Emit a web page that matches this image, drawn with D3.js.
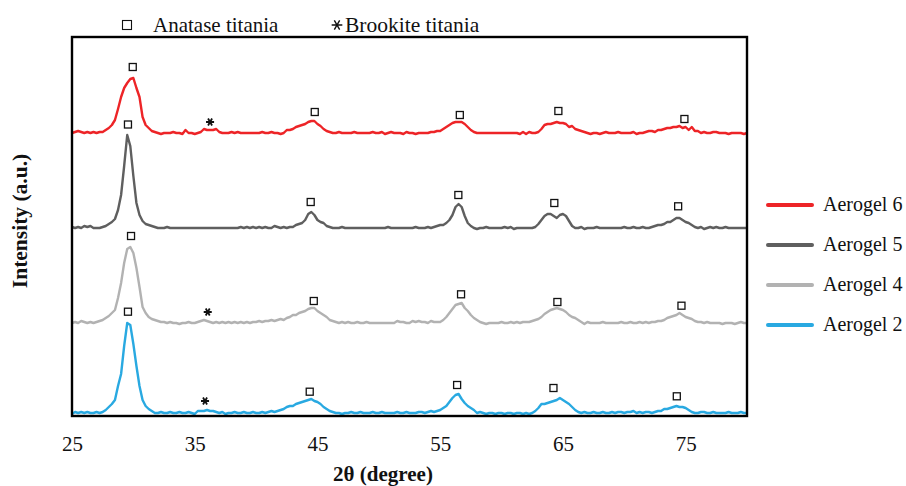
<!DOCTYPE html>
<html>
<head>
<meta charset="utf-8">
<script src="https://cdn.jsdelivr.net/npm/d3@7"></script>
<style>
  html, body { margin: 0; padding: 0; background: #fff; }
  svg { display: block; }
  text { font-family: "Liberation Serif", "DejaVu Serif", serif; fill: #111; }
</style>
</head>
<body>
<svg id="chart" width="906" height="486"></svg>
<script>
// ---------------- data ----------------
const seriesNames = ["Aerogel 6", "Aerogel 5", "Aerogel 4", "Aerogel 2"];
const seriesColors = ["#ED2427", "#5F5F5F", "#B2B2B2", "#29A9E1"];
const seriesOffsets = [283, 188, 93, 2];   // vertical stacking offset (a.u.)
const xTicks = [25, 35, 45, 55, 65, 75];
const xStart = 25, xEnd = 80, xStep = 0.25;

// intensities (a.u. above each trace's baseline), sampled every 0.25° from 25° to 80°
const aerogel6 = [
  0,1,2,1,0,1,0,1,0,1,1,3,5,8,13,24,36,45,50,54,
  55,45,36,16,8,5,2,1,0,-1,0,0,0,1,0,0,-1,3,0,0,
  -1,0,1,4,3,3,3,4,1,0,0,0,1,0,1,0,0,0,0,0,
  0,0,1,0,0,1,0,0,-1,0,3,3,4,6,7,8,9,11,12,12,
  9,7,4,2,1,0,0,1,0,0,0,0,1,0,0,0,0,0,1,0,
  0,1,-1,0,1,0,0,0,-1,1,0,0,-1,0,0,0,0,1,1,2,
  2,4,6,8,10,11,11,11,9,6,3,1,0,0,0,0,0,0,0,0,
  0,0,0,0,0,0,-1,1,-1,1,0,0,1,4,8,9,9,10,11,10,
  10,9,6,7,4,3,2,1,0,-1,0,0,-1,0,1,0,0,0,1,0,
  0,0,0,1,-1,0,0,1,2,2,1,3,3,4,5,5,6,6,7,5,
  6,3,6,2,2,0,1,0,0,1,1,0,0,0,-1,0,0,0,0,-1,
  0
];
const aerogel5 = [
  1,0,1,0,2,1,2,0,0,0,1,2,4,6,9,18,33,62,93,82,
  52,25,13,7,4,3,2,1,0,0,0,1,0,0,0,0,0,0,0,0,
  0,0,0,0,0,0,0,0,0,0,0,0,0,0,0,1,0,1,0,1,
  0,1,0,1,0,0,2,1,0,1,0,1,1,3,4,5,8,14,16,13,
  8,6,5,2,1,0,0,0,1,0,0,0,0,0,0,0,0,0,0,0,
  0,0,0,1,0,0,0,0,0,0,0,0,1,0,0,0,1,0,1,2,
  3,3,5,8,13,21,24,21,12,5,2,0,-1,0,0,1,0,0,0,0,
  0,1,0,1,-1,0,0,0,0,0,0,1,4,8,12,14,14,12,10,13,
  14,12,7,2,0,0,1,-1,0,0,0,1,0,0,0,0,0,0,0,0,
  1,0,0,1,0,0,1,0,0,1,2,3,3,4,6,6,8,10,10,8,
  6,5,3,1,0,1,-1,0,1,0,1,0,0,1,0,0,0,0,0,0,
  0
];
const aerogel4 = [
  0,1,0,2,1,0,1,0,1,2,3,5,7,10,13,25,40,60,74,76,
  70,55,36,16,10,6,4,3,2,1,1,0,1,0,0,-1,0,0,1,0,
  0,1,2,3,2,1,0,1,0,1,0,1,0,1,0,1,0,1,0,1,
  1,2,1,2,2,3,2,3,4,3,5,6,8,8,10,11,12,14,15,15,
  12,10,8,6,3,2,1,0,1,0,1,0,0,1,0,0,1,0,0,0,
  0,0,0,0,0,0,2,1,1,0,0,2,1,2,1,1,0,2,1,1,
  1,3,6,10,14,18,19,20,15,12,8,5,3,1,0,-1,0,0,0,0,
  1,0,0,1,0,1,0,1,1,1,2,3,4,6,9,11,13,14,15,14,
  13,11,8,6,5,3,1,-1,1,0,0,0,0,1,0,0,0,0,0,1,
  0,0,1,0,0,1,0,1,0,1,1,2,2,3,5,6,7,8,10,8,
  6,5,4,2,1,1,0,1,0,0,0,0,-1,0,0,0,-1,0,1,0,
  0
];
const aerogel2 = [
  0,2,1,2,1,2,1,1,2,1,2,4,7,10,14,28,40,68,91,89,
  70,48,28,14,8,5,3,1,1,2,1,1,2,1,1,2,1,1,2,1,
  0,3,3,3,4,3,3,2,1,2,0,1,1,2,1,1,2,1,1,2,
  1,1,2,1,2,3,2,3,4,5,7,8,8,10,11,12,13,14,15,13,
  12,10,7,5,3,2,1,1,0,1,1,2,1,1,2,1,1,1,2,1,
  1,2,1,1,1,1,2,1,1,2,1,1,1,2,2,1,2,3,2,3,
  4,6,8,12,16,19,20,15,11,8,6,4,1,2,1,0,1,1,0,1,
  1,0,1,1,0,1,1,0,1,0,1,3,6,10,10,11,12,13,14,16,
  14,12,10,7,4,2,1,2,1,1,2,1,1,2,1,1,2,1,2,2,
  1,2,2,3,1,2,1,2,2,1,2,3,3,5,5,6,7,8,7,7,
  6,4,2,1,1,2,2,1,1,2,1,1,1,1,2,1,1,1,2,1,
  1
];
const seriesValues = [aerogel6, aerogel5, aerogel4, aerogel2];

// peak markers: [2θ, absolute plotted intensity]
const anataseMarks = [
  [29.95, 349], [44.78, 304], [56.6, 301], [64.63, 305], [74.9, 297],
  [29.56, 291.5], [44.45, 214], [56.48, 221], [64.3, 213], [74.39, 209.7],
  [29.81, 180], [44.7, 115], [56.7, 121.7], [64.55, 114], [74.66, 110.3],
  [29.56, 104.3], [44.37, 24.3], [56.38, 31], [64.23, 28], [74.28, 19.7]
];
const brookiteMarks = [[36.25, 294], [36.06, 104], [35.84, 15]];

// ---------------- chart ----------------
const svg = d3.select("#chart");
const plot = { left: 72, top: 37, right: 747, bottom: 416 };

const x = d3.scaleLinear().domain([xStart, xEnd]).range([plot.left, plot.right]);
const y = d3.scaleLinear().domain([0, 379]).range([plot.bottom, plot.top]);

const angles = d3.range(0, seriesValues[0].length).map(i => xStart + i * xStep);

const line = d3.line()
  .x(d => x(d[0]))
  .y(d => y(d[1]));

const traces = svg.append("g");
seriesValues.forEach((vals, k) => {
  const pts = vals.map((v, i) => [angles[i], v + seriesOffsets[k]]);
  traces.append("path")
    .datum(pts)
    .attr("d", line)
    .attr("fill", "none")
    .attr("stroke", seriesColors[k])
    .attr("stroke-width", 2.4)
    .attr("stroke-linejoin", "round");
});

// anatase squares
svg.append("g").selectAll("rect").data(anataseMarks).join("rect")
  .attr("x", d => x(d[0]) - 3.5)
  .attr("y", d => y(d[1]) - 3.5)
  .attr("width", 7).attr("height", 7)
  .attr("fill", "#fff").attr("stroke", "#111").attr("stroke-width", 1.3);

// brookite asterisks
const ast = d3.symbol().type(d3.symbolAsterisk).size(45);
svg.append("g").selectAll("path").data(brookiteMarks).join("path")
  .attr("transform", d => `translate(${x(d[0])},${y(d[1])}) rotate(90)`)
  .attr("d", ast)
  .attr("fill", "none").attr("stroke", "#111").attr("stroke-width", 1.8);

// frame
svg.append("rect")
  .attr("x", plot.left).attr("y", plot.top)
  .attr("width", plot.right - plot.left).attr("height", plot.bottom - plot.top)
  .attr("fill", "none").attr("stroke", "#000").attr("stroke-width", 2.4);

// x axis labels
const xAxis = d3.axisBottom(x).tickValues(xTicks).tickSize(0).tickPadding(20).tickFormat(d3.format("d"));
const gx = svg.append("g").attr("transform", `translate(0,${plot.bottom})`).call(xAxis);
gx.select(".domain").remove();
gx.selectAll("text").attr("font-size", 21).attr("fill", "#111")
  .style("font-family", '"Liberation Serif", serif');

// axis titles
svg.append("text")
  .attr("x", 383).attr("y", 481)
  .attr("text-anchor", "middle").attr("font-size", 21).attr("font-weight", "bold")
  .text("2θ (degree)");
svg.append("text")
  .attr("transform", "translate(27,221) rotate(-90)")
  .attr("text-anchor", "middle").attr("font-size", 21.5).attr("font-weight", "bold")
  .text("Intensity (a.u.)");

// top legend
svg.append("rect").attr("x", 122.5).attr("y", 20.5).attr("width", 9).attr("height", 9)
  .attr("fill", "#fff").attr("stroke", "#111").attr("stroke-width", 1.1);
svg.append("text").attr("x", 153).attr("y", 32).attr("font-size", 21).text("Anatase titania");
svg.append("path").attr("transform", "translate(337,25) rotate(90)")
  .attr("d", d3.symbol().type(d3.symbolAsterisk).size(80)())
  .attr("fill", "none").attr("stroke", "#111").attr("stroke-width", 1.4);
svg.append("text").attr("x", 345).attr("y", 32).attr("font-size", 21.5).text("Brookite titania");

// right legend
const legY = [205, 245, 285, 325];
const leg = svg.append("g");
seriesNames.forEach((name, k) => {
  leg.append("line")
    .attr("x1", 768).attr("x2", 812).attr("y1", legY[k]).attr("y2", legY[k])
    .attr("stroke", seriesColors[k]).attr("stroke-width", 4).attr("stroke-linecap", "round");
  leg.append("text").attr("x", 823).attr("y", legY[k] + 6).attr("font-size", 20).text(name);
});
</script>
</body>
</html>
